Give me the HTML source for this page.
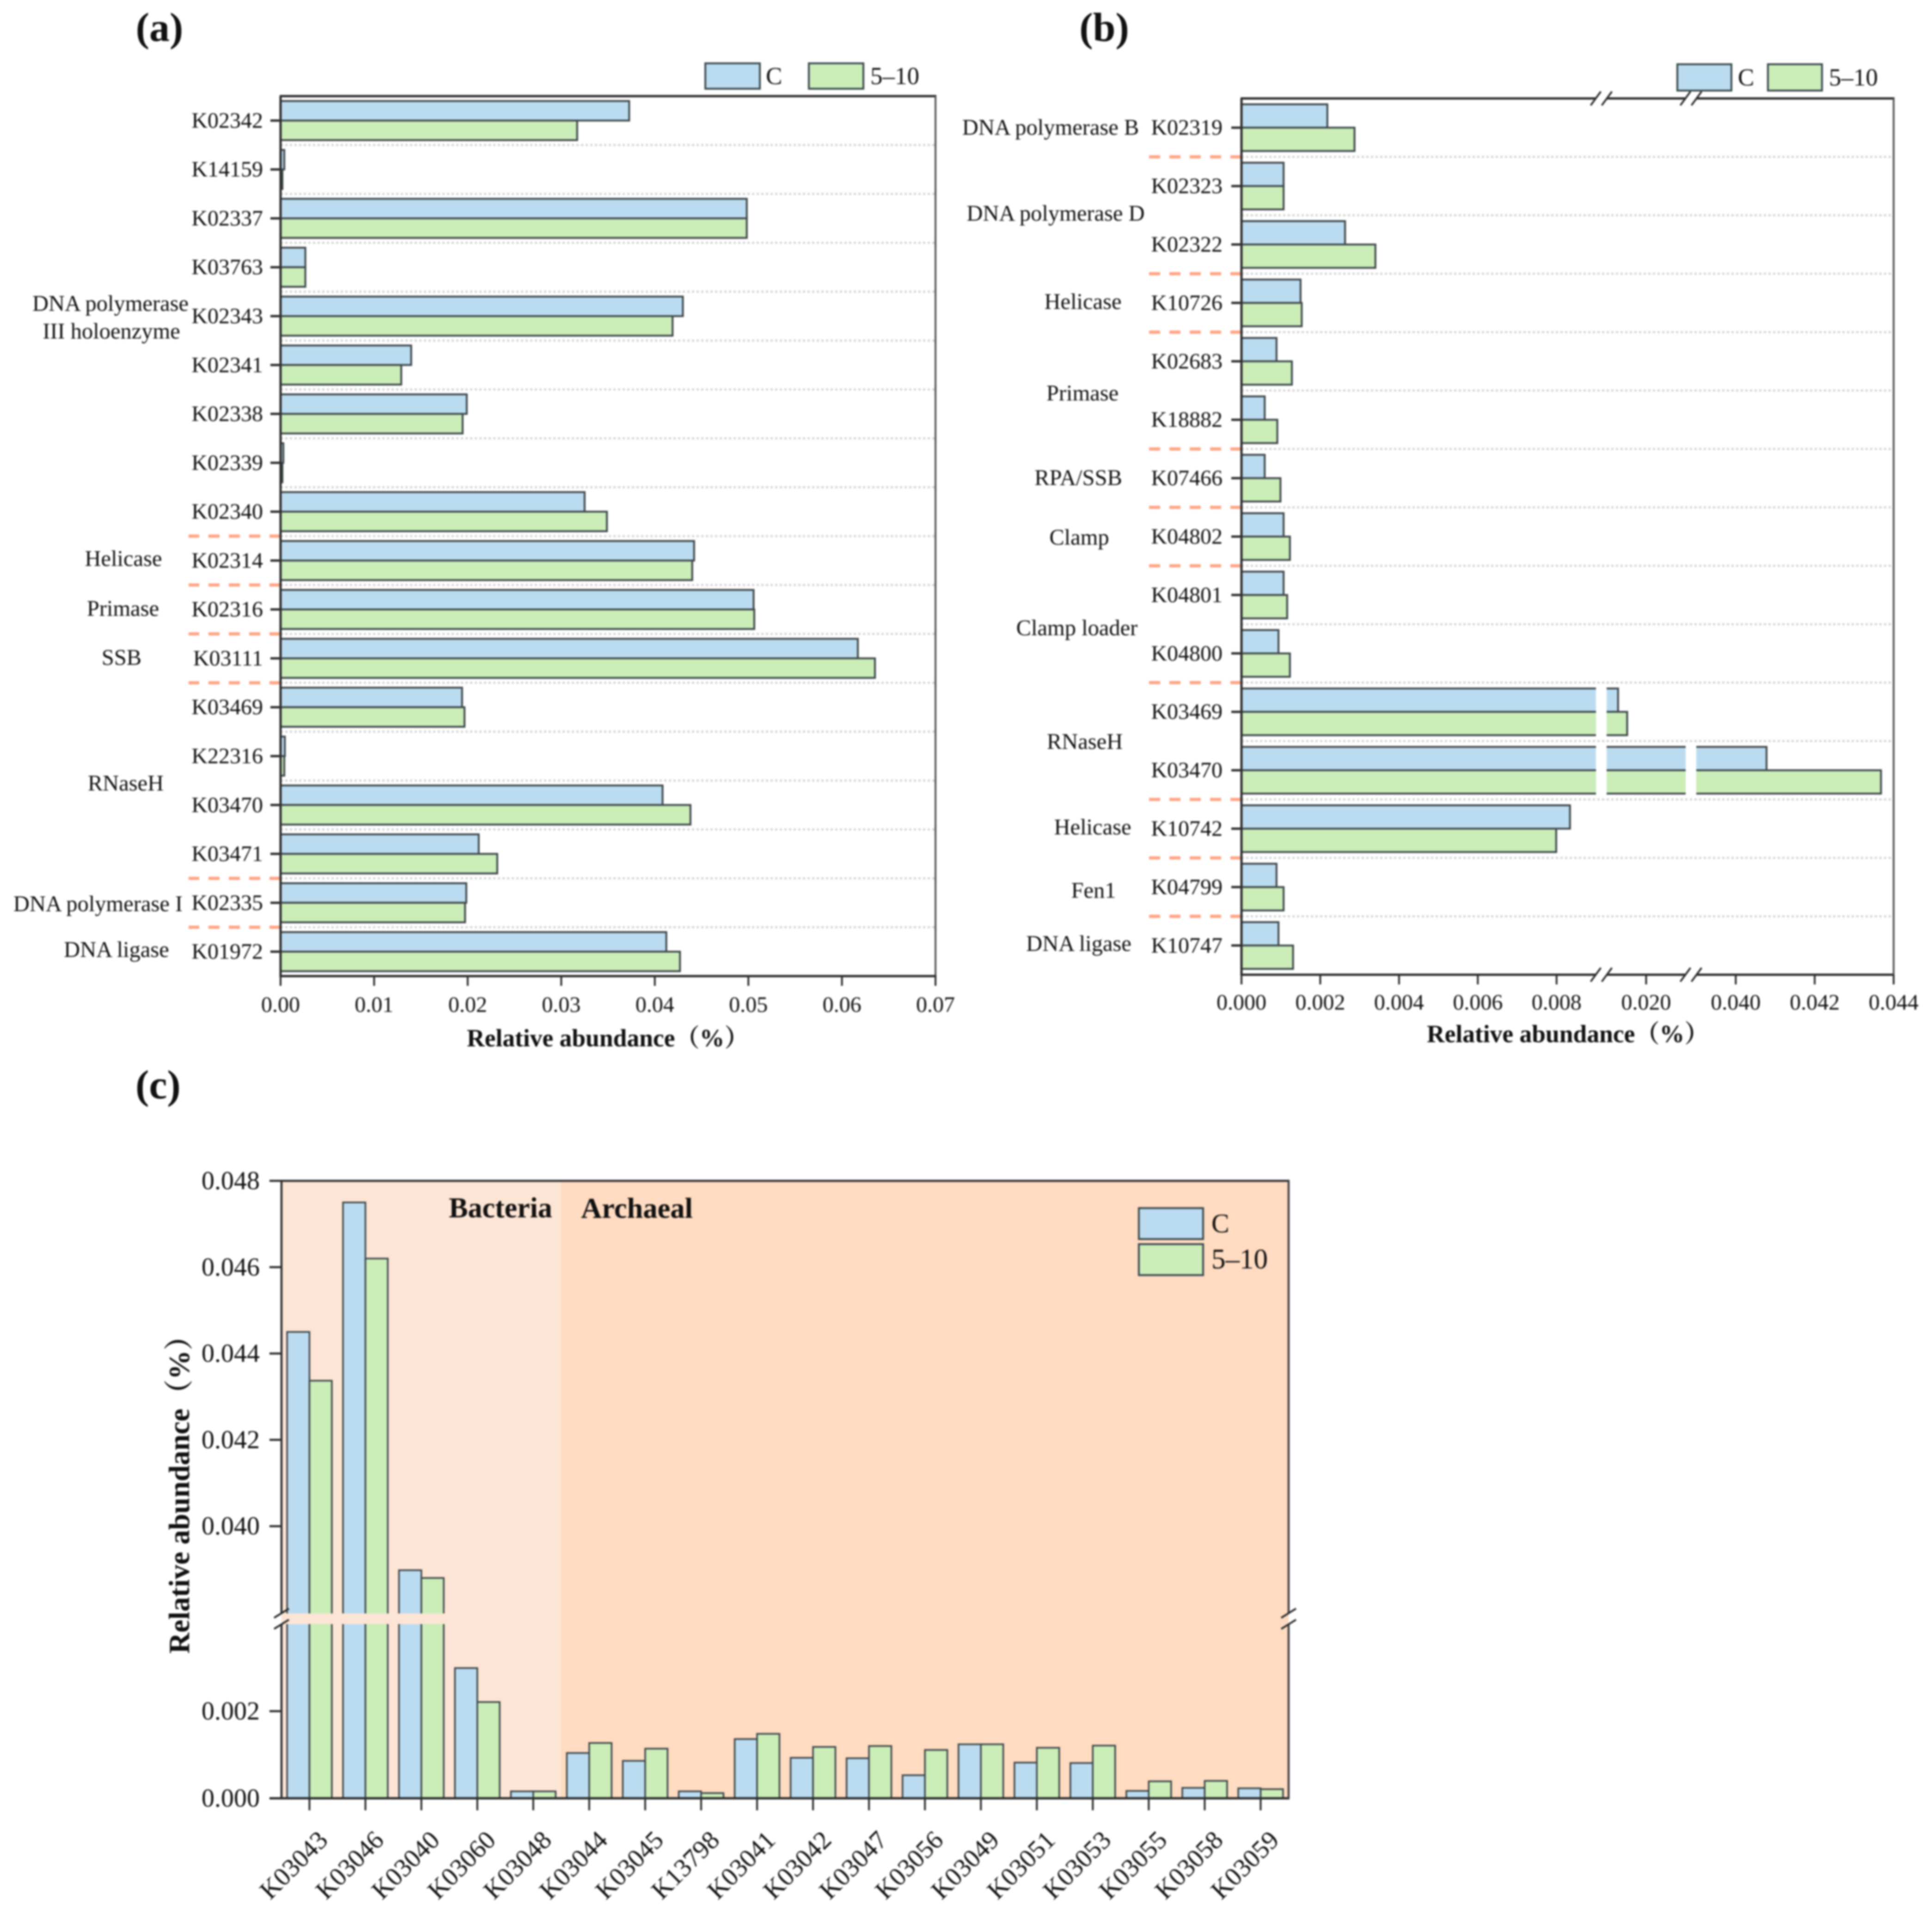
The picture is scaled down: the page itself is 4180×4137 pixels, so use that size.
<!DOCTYPE html>
<html lang="en">
<head>
<meta charset="utf-8">
<title>Relative abundance of DNA replication genes</title>
<style>
html,body{margin:0;padding:0;background:#fff;}
#figure{display:block;filter:blur(1.8px);font-family:"Liberation Serif","Noto Serif CJK SC",serif;fill:#111;}
.tk{font-size:48px;}
.grp{font-size:48.5px;text-anchor:middle;dominant-baseline:central;}
.ttl{font-size:88px;font-weight:bold;text-anchor:middle;dominant-baseline:central;fill:#111;}
.axt{font-weight:bold;font-size:53.5px;text-anchor:start;dominant-baseline:central;fill:#111;}
.leg{font-size:53px;dominant-baseline:central;}
</style>
</head>
<body>
<svg id="figure" xmlns="http://www.w3.org/2000/svg" width="4180" height="4137" viewBox="0 0 4180 4137">
  <rect x="0" y="0" width="4180" height="4137" fill="#fff"/>

  <text class="ttl" x="345" y="60">(a)</text>
  <text class="ttl" x="2389" y="60">(b)</text>
  <text class="ttl" x="342" y="2348">(c)</text>

  <g id="panel-a"></g>
  <g>
    <text class="grp" x="239" y="657">DNA polymerase</text>
    <text class="grp" x="241" y="717">III holoenzyme</text>
    <text class="grp" x="267" y="1209">Helicase</text>
    <text class="grp" x="266" y="1317">Primase</text>
    <text class="grp" x="263" y="1423">SSB</text>
    <text class="grp" x="272" y="1695">RNaseH</text>
    <text class="grp" x="212" y="1956">DNA polymerase I</text>
    <text class="grp" x="252" y="2055">DNA ligase</text>
  </g>
  <g>
    <rect x="1526" y="137" width="118" height="55" fill="#bbdcf0" stroke="#3c4a50" stroke-width="4"/>
    <text class="leg" x="1657" y="165">C</text>
    <rect x="1750" y="137" width="118" height="55" fill="#cbedb8" stroke="#3c4a50" stroke-width="4"/>
    <text class="leg" x="1883" y="165">5–10</text>
  </g>
  <text class="axt" x="1010" y="2246">Relative abundance（%）</text>

  <g id="panel-b"></g>
  <g>
    <text class="grp" x="2273" y="276">DNA polymerase B</text>
    <text class="grp" x="2284" y="462">DNA polymerase D</text>
    <text class="grp" x="2343" y="653">Helicase</text>
    <text class="grp" x="2342" y="851">Primase</text>
    <text class="grp" x="2333" y="1034">RPA/SSB</text>
    <text class="grp" x="2335" y="1163">Clamp</text>
    <text class="grp" x="2330" y="1359">Clamp loader</text>
    <text class="grp" x="2347" y="1605">RNaseH</text>
    <text class="grp" x="2364" y="1790">Helicase</text>
    <text class="grp" x="2366" y="1927">Fen1</text>
    <text class="grp" x="2334" y="2042">DNA ligase</text>
  </g>
  <g>
    <rect x="3629" y="139" width="117" height="57" fill="#bbdcf0" stroke="#3c4a50" stroke-width="4"/>
    <text class="leg" x="3760" y="168">C</text>
    <rect x="3825" y="139" width="117" height="57" fill="#cbedb8" stroke="#3c4a50" stroke-width="4"/>
    <text class="leg" x="3957" y="168">5–10</text>
  </g>
  <text class="axt" x="3087" y="2237">Relative abundance（%）</text>

  <g>
    <rect x="609" y="2555" width="605" height="1336" fill="#fde5d5"/>
    <rect x="1214" y="2555" width="1574" height="1336" fill="#fedbc1"/>
  </g>
  <g id="panel-c"></g>
  <text x="971" y="2614" font-size="62" font-weight="bold" dominant-baseline="central" fill="#111">Bacteria</text>
  <text x="1257" y="2614" font-size="62.5" font-weight="bold" dominant-baseline="central" fill="#111">Archaeal</text>
  <g>
    <rect x="2464" y="2614" width="139" height="67" fill="#bbdcf0" stroke="#3c4a50" stroke-width="4"/>
    <text x="2621" y="2647" font-size="58" dominant-baseline="central">C</text>
    <rect x="2464" y="2692" width="139" height="67" fill="#cbedb8" stroke="#3c4a50" stroke-width="4"/>
    <text x="2621" y="2725" font-size="61" dominant-baseline="central">5–10</text>
  </g>
  <text class="axt" style="font-size:63px" transform="translate(388,3578) rotate(-90)" x="0" y="0">Relative abundance（%）</text>
</svg>

<script>
// ---------- Panel (a) data ----------
const aCategories = ['K02342','K14159','K02337','K03763','K02343','K02341','K02338','K02339','K02340','K02314','K02316','K03111','K03469','K22316','K03470','K03471','K02335','K01972'];
const aControl = [0.03726,0.0004,0.04983,0.00265,0.0430,0.01396,0.0199,0.0003,0.0325,0.0442,0.05056,0.0617,0.0194,0.00046,0.04083,0.02118,0.01985,0.04123];
const aTreated = [0.0317,0.0002,0.04983,0.00265,0.0419,0.0129,0.01946,0.0002,0.03488,0.0440,0.05063,0.06353,0.01966,0.0004,0.04381,0.02316,0.01972,0.04269];
const aTickLabels = ['0.00','0.01','0.02','0.03','0.04','0.05','0.06','0.07'];
const aGroupEnds = ['K02340','K02314','K02316','K03111','K03471','K02335'];

// ---------- Panel (b) data ----------
const bCategories = ['K02319','K02323','K02322','K10726','K02683','K18882','K07466','K04802','K04801','K04800','K03469','K03470','K10742','K04799','K10747'];
const bControl = [0.00218,0.00107,0.00263,0.0015,0.00089,0.00059,0.00059,0.00107,0.00107,0.00094,0.0129,0.04078,0.00834,0.00089,0.00094];
const bTreated = [0.00287,0.00107,0.0034,0.00153,0.00128,0.00091,0.00099,0.00123,0.00116,0.00123,0.0152,0.04368,0.00799,0.00107,0.00131];
const bTickLabels = ['0.000','0.002','0.004','0.006','0.008','0.020','0.040','0.042','0.044'];
const bGroupEnds = ['K02319','K02322','K10726','K18882','K07466','K04802','K04800','K03470','K10742','K04799'];

// ---------- Panel (c) data ----------
const cCategories = ['K03043','K03046','K03040','K03060','K03048','K03044','K03045','K13798','K03041','K03042','K03047','K03056','K03049','K03051','K03053','K03055','K03058','K03059'];
const cControl = [0.0445,0.0475,0.03898,0.00299,0.00016,0.00104,0.00086,0.00016,0.00136,0.00093,0.00092,0.00053,0.00124,0.00082,0.00081,0.00017,0.00024,0.00023];
const cTreated = [0.04337,0.0462,0.0388,0.00221,0.00016,0.00127,0.00114,0.00012,0.00148,0.00118,0.0012,0.00111,0.00124,0.00116,0.00121,0.00039,0.0004,0.00021];
const cTickLabels = ['0.000','0.002','0.040','0.042','0.044','0.046','0.048'];

// ---------- Axis functions ----------
const NS = 'http://www.w3.org/2000/svg';
const BLUE = '#bbdcf0', GREEN = '#cbedb8', EDGE = '#3f484c', AXIS = '#2e2e2e';

function xA(v){ return 607 + (v / 0.07) * (2024 - 607); }
function yA(i){ return 208 + (i + 0.5) * (2112 - 208) / aCategories.length; }

function xB(v){
  if (v <= 0.009) return 2686 + (v / 0.009) * (3453 - 2686);
  if (v < 0.010) return 3453 + ((v - 0.009) / 0.001) * (3476 - 3453);
  if (v <= 0.030) return 3476 + ((v - 0.010) / 0.020) * (3647 - 3476);
  if (v < 0.039) return 3647 + ((v - 0.030) / 0.009) * (3670 - 3647);
  return 3670 + ((v - 0.039) / 0.005) * (4097 - 3670);
}
function yB(i){ return 213 + (i + 0.5) * (2109 - 213) / bCategories.length; }

function xC(i){ return 609 + (i + 0.5) * (2788 - 609) / cCategories.length; }
function yC(v){
  if (v <= 0.004) return 3891 - (v / 0.004) * (3891 - 3514);
  if (v < 0.038) return 3514 - ((v - 0.004) / 0.034) * (3514 - 3489);
  return 2555 + ((0.048 - v) / 0.010) * (3489 - 2555);
}

function make(tag, attrs, parent, text){
  const node = document.createElementNS(NS, tag);
  for (const k in attrs) node.setAttribute(k, attrs[k]);
  if (text !== undefined) node.textContent = text;
  parent.appendChild(node);
  return node;
}

function line(parent, x1, y1, x2, y2, color, width, name){
  const l = make('line', {x1:x1, y1:y1, x2:x2, y2:y2, stroke:color, 'stroke-width':width}, parent);
  
  
  return l;
}

function breakMark(parent, cx, cy, dx, dy, sep, vertical, name){
  for (let k = -1; k <= 1; k += 2) {
    const ox = vertical ? 0 : k * sep;
    const oy = vertical ? k * sep : 0;
    line(parent, cx + ox - dx, cy + oy + dy, cx + ox + dx, cy + oy - dy, AXIS, 4, name);
  }
}

function separators(parent, cats, ends, yFn, x0, xGrid0, xGrid1, prefix){
  const step = yFn(1) - yFn(0);
  cats.forEach(function(cat, i){
    if (i === cats.length - 1) return;
    const y = yFn(i) + step / 2;
    const grid = line(parent, xGrid0, y, xGrid1, y, '#d4d4d4', 4.5, prefix + '-gridline-' + cat);
    grid.setAttribute('stroke-dasharray', '5 5');
    if (ends.indexOf(cat) >= 0) {
      const dash = line(parent, xGrid0, y, x0, y, '#ffa585', 7, prefix + '-group-separator-' + cat);
      dash.setAttribute('stroke-dasharray', '24 20');
    }
  });
}

function hBars(parent, cats, ctrl, treat, xFn, yFn, prefix, gaps){
  const step = yFn(1) - yFn(0);
  const h = step * 0.4;
  const x0 = xFn(0);
  cats.forEach(function(cat, i){
    const yc = yFn(i);
    const c = make('rect', {x:x0, y:yc - h, width:xFn(ctrl[i]) - x0, height:h, fill:BLUE, stroke:EDGE, 'stroke-width':4}, parent);
    
    
    const t = make('rect', {x:x0, y:yc, width:xFn(treat[i]) - x0, height:h, fill:GREEN, stroke:EDGE, 'stroke-width':4}, parent);
    
    
    (gaps || []).forEach(function(g){
      if (xFn(treat[i]) > g[0] || xFn(ctrl[i]) > g[0]) {
        const w = make('rect', {x:g[0], y:yc - h - 4, width:g[1] - g[0], height:2 * h + 8, fill:'#fff'}, parent);
        
        
      }
    });
    line(parent, x0 - 22, yc, x0, yc, AXIS, 5, prefix + '-y-tick-' + cat);
  });
}

function catLabels(parent, cats, yFn, xEnd, prefix){
  cats.forEach(function(cat, i){
    const lab = make('text', {x:xEnd, y:yFn(i), 'text-anchor':'end', 'dominant-baseline':'central', class:'tk'}, parent, cat);
    
    
  });
}

function xTicks(parent, labels, xFn, yAxis, yText, prefix){
  labels.forEach(function(label){
    const x = xFn(parseFloat(label));
    line(parent, x, yAxis, x, yAxis + 21, AXIS, 4, prefix + '-x-tick-' + label);
    const t = make('text', {x:x, y:yText, 'text-anchor':'middle', 'dominant-baseline':'central', class:'tk'}, parent, label);
    
    
  });
}

// ---------- Panel (a) ----------
(function(){
  const g = document.getElementById('panel-a');
  separators(g, aCategories, aGroupEnds, yA, 408, xA(0), xA(0.07), 'panel-a');
  hBars(g, aCategories, aControl, aTreated, xA, yA, 'panel-a');
  catLabels(g, aCategories, yA, 569, 'panel-a');
  line(g, 605, 208, 2026, 208, AXIS, 5, 'panel-a-top-axis');
  line(g, 607, 208, 607, 2114, AXIS, 5, 'panel-a-left-axis');
  line(g, 2024, 208, 2024, 2114, '#555', 4, 'panel-a-right-axis');
  line(g, 605, 2112, 2026, 2112, AXIS, 5, 'panel-a-bottom-axis');
  xTicks(g, aTickLabels, xA, 2112, 2174, 'panel-a');
})();

// ---------- Panel (b) ----------
(function(){
  const g = document.getElementById('panel-b');
  const x0 = xB(0), x1 = xB(0.044);
  separators(g, bCategories, bGroupEnds, yB, 2485, x0, x1, 'panel-b');
  hBars(g, bCategories, bControl, bTreated, xB, yB, 'panel-b', [[3453,3476],[3647,3670]]);
  catLabels(g, bCategories, yB, 2645, 'panel-b');
  [213, 2109].forEach(function(y){
    const side = y === 213 ? 'top' : 'bottom';
    line(g, x0 - 2, y, 3452, y, AXIS, 5, 'panel-b-' + side + '-axis-part-1');
    line(g, 3476, y, 3646, y, AXIS, 5, 'panel-b-' + side + '-axis-part-2');
    line(g, 3670, y, x1 + 2, y, AXIS, 5, 'panel-b-' + side + '-axis-part-3');
    breakMark(g, 3464.5, y, 11, 15, 12, false, 'panel-b-' + side + '-axis-break-1');
    breakMark(g, 3658.5, y, 11, 15, 12, false, 'panel-b-' + side + '-axis-break-2');
  });
  line(g, x0, 213, x0, 2111, AXIS, 5, 'panel-b-left-axis');
  line(g, x1, 213, x1, 2111, '#555', 4, 'panel-b-right-axis');
  xTicks(g, bTickLabels, xB, 2109, 2169, 'panel-b');
})();

// ---------- Panel (c) ----------
(function(){
  const g = document.getElementById('panel-c');
  const bw = (xC(1) - xC(0)) * 0.4;
  const base = yC(0);
  cCategories.forEach(function(cat, i){
    const xc = xC(i);
    const c = make('rect', {x:xc - bw, y:yC(cControl[i]), width:bw, height:base - yC(cControl[i]), fill:BLUE, stroke:EDGE, 'stroke-width':3.5}, g);
    
    
    const t = make('rect', {x:xc, y:yC(cTreated[i]), width:bw, height:base - yC(cTreated[i]), fill:GREEN, stroke:EDGE, 'stroke-width':3.5}, g);
    
    
    if (cControl[i] > 0.038 || cTreated[i] > 0.038) {
      const gap = make('rect', {x:xc - bw - 3, y:3491, width:2 * bw + 6, height:23, fill:'#fde5d5'}, g);
      
      
    }
    line(g, xc, base, xc, base + 26, AXIS, 4, 'panel-c-x-tick-' + cat);
    const lab = make('text', {'text-anchor':'end', 'dominant-baseline':'central', 'font-size':56, transform:'translate(' + (xc + 30) + ',3972) rotate(-45)'}, g, cat);
    
    
  });
  const left = 609, right = 2788;
  line(g, left - 2, 2555, right + 2, 2555, AXIS, 4.5, 'panel-c-top-axis');
  line(g, left - 26, base, right + 2, base, AXIS, 5, 'panel-c-bottom-axis');
  line(g, left, 2555, left, 3490, AXIS, 4.5, 'panel-c-left-axis-upper');
  line(g, left, 3515, left, base, AXIS, 4.5, 'panel-c-left-axis-lower');
  line(g, right, 2555, right, 3490, '#444', 4.5, 'panel-c-right-axis-upper');
  line(g, right, 3515, right, base, '#444', 4.5, 'panel-c-right-axis-lower');
  breakMark(g, left, 3502.5, 16, 10, 12, true, 'panel-c-left-axis-break');
  breakMark(g, right, 3502.5, 16, 10, 12, true, 'panel-c-right-axis-break');
  cTickLabels.forEach(function(label){
    const y = yC(parseFloat(label));
    line(g, left - 26, y, left, y, AXIS, 4.5, 'panel-c-y-tick-' + label);
    const t = make('text', {x:562, y:y, 'text-anchor':'end', 'dominant-baseline':'central', 'font-size':56}, g, label);
    
    
  });
})();
</script>
</body>
</html>
